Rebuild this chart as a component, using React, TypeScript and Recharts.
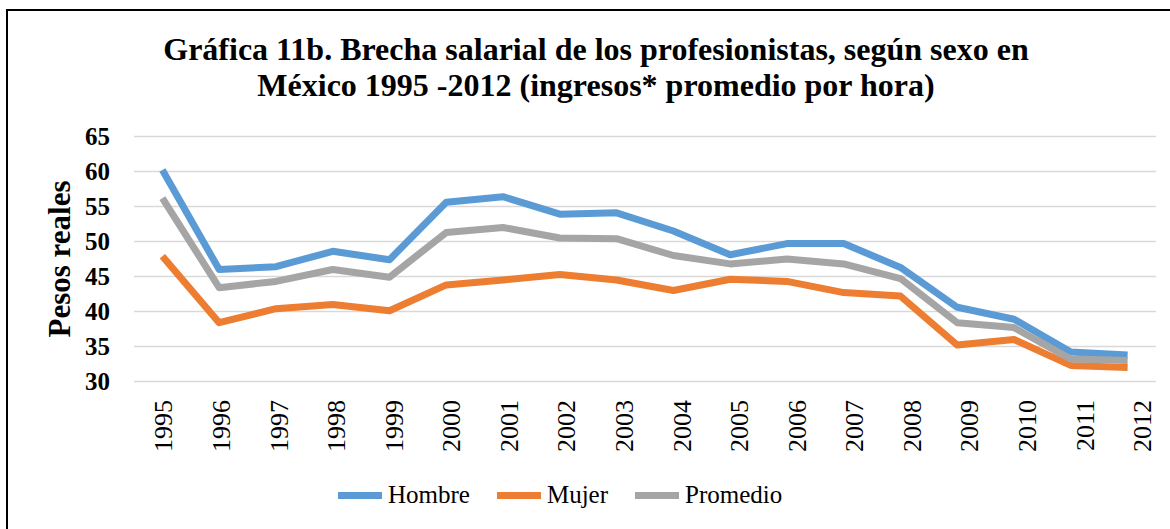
import { LineChart, Line, XAxis, YAxis, CartesianGrid, Legend } from "recharts"

// Gráfica 11b - ingresos promedio por hora (pesos reales)
const years = [
  "1995", "1996", "1997", "1998", "1999", "2000", "2001", "2002", "2003",
  "2004", "2005", "2006", "2007", "2008", "2009", "2010", "2011", "2012",
]
const hombre = [60.2, 46.0, 46.4, 48.6, 47.4, 55.6, 56.4, 53.9, 54.1, 51.5, 48.1, 49.7, 49.7, 46.3, 40.6, 38.9, 34.2, 33.8]
const mujer = [47.9, 38.4, 40.4, 41.0, 40.1, 43.8, 44.5, 45.3, 44.5, 43.0, 44.6, 44.3, 42.7, 42.2, 35.2, 36.0, 32.3, 32.0]
const promedio = [56.2, 43.4, 44.3, 46.0, 44.9, 51.3, 52.0, 50.5, 50.4, 48.0, 46.8, 47.5, 46.8, 44.7, 38.4, 37.7, 33.2, 33.0]
const yTicks = [30, 35, 40, 45, 50, 55, 60, 65]

const data = years.map((year, i) => ({
  year,
  Hombre: hombre[i],
  Mujer: mujer[i],
  Promedio: promedio[i],
}))

const serif = '"Liberation Serif", "Times New Roman", serif'

const YearTick = ({ x, y, payload, index }: any) => {
  // excel spreads the rotated labels a bit wider than the points
  const bx = x + 10 + index * 0.8
  return (
    <text
      transform={`translate(${bx}, 400) rotate(-90)`}
      textAnchor="end"
      fontFamily={serif}
      fontSize={26}
      fill="#000"
    >
      {payload.value}
    </text>
  )
}

const renderLegend = ({ payload }: any) => (
  <div style={{ display: "flex", paddingLeft: 338, fontFamily: serif, fontSize: 25, color: "#000" }}>
    {payload.map((entry: any) => (
      <div key={entry.value} style={{ display: "flex", alignItems: "center", marginRight: 27 }}>
        <span style={{ width: 44, height: 7, background: entry.color, marginRight: 6, display: "inline-block" }} />
        <span>{entry.value}</span>
      </div>
    ))}
  </div>
)

export default function App() {
  return (
    <div
      style={{
        position: "absolute",
        left: 0,
        top: 0,
        width: 1170,
        height: 529,
        overflow: "hidden",
        background: "#fff",
      }}
    >
      <div
        style={{
          position: "absolute",
          left: 6,
          top: 9,
          width: 1200,
          height: 560,
          border: "2px solid #000",
        }}
      />
      <div
        style={{
          position: "absolute",
          left: 96,
          width: 1000,
          top: 31,
          textAlign: "center",
          fontFamily: serif,
          fontWeight: "bold",
          fontSize: 32,
          lineHeight: "36px",
          color: "#000",
        }}
      >
        Gráfica 11b. Brecha salarial de los profesionistas, según sexo en
        <br />
        México 1995 -2012 (ingresos* promedio por hora)
      </div>
      <div style={{ position: "absolute", left: 0, top: 0 }}>
        <LineChart
          width={1170}
          height={529}
          data={data}
          margin={{ top: 136.5, right: 14, left: 0, bottom: 0 }}
        >
          <CartesianGrid vertical={false} stroke="#d9d9d9" strokeWidth={1.5} />
          <XAxis
            dataKey="year"
            scale="band"
            height={147.5}
            axisLine={false}
            tickLine={false}
            interval={0}
            tick={<YearTick />}
          />
          <YAxis
            width={134}
            domain={[30, 65]}
            ticks={yTicks}
            interval={0}
            axisLine={false}
            tickLine={false}
            tickSize={0}
            tickMargin={24}
            tick={{ fontFamily: serif, fontSize: 25, fontWeight: "bold", fill: "#000" }}
            label={({ viewBox }: any) => (
              <text
                transform={`translate(${viewBox.x + 70}, ${viewBox.y + viewBox.height / 2}) rotate(-90)`}
                textAnchor="middle"
                fontFamily={serif}
                fontWeight="bold"
                fontSize={31}
                fill="#000"
              >
                Pesos reales
              </text>
            )}
          />
          <Legend
            layout="horizontal"
            verticalAlign="middle"
            align="center"
            wrapperStyle={{ top: 481, left: 0, width: 1170 }}
            content={renderLegend}
          />
          <Line dataKey="Hombre" stroke="#5b9bd5" strokeWidth={7} strokeLinejoin="round" strokeLinecap="butt" dot={false} activeDot={false} isAnimationActive={false} />
          <Line dataKey="Mujer" stroke="#ed7d31" strokeWidth={7} strokeLinejoin="round" strokeLinecap="butt" dot={false} activeDot={false} isAnimationActive={false} />
          <Line dataKey="Promedio" stroke="#a5a5a5" strokeWidth={7} strokeLinejoin="round" strokeLinecap="butt" dot={false} activeDot={false} isAnimationActive={false} />
        </LineChart>
      </div>
    </div>
  )
}
